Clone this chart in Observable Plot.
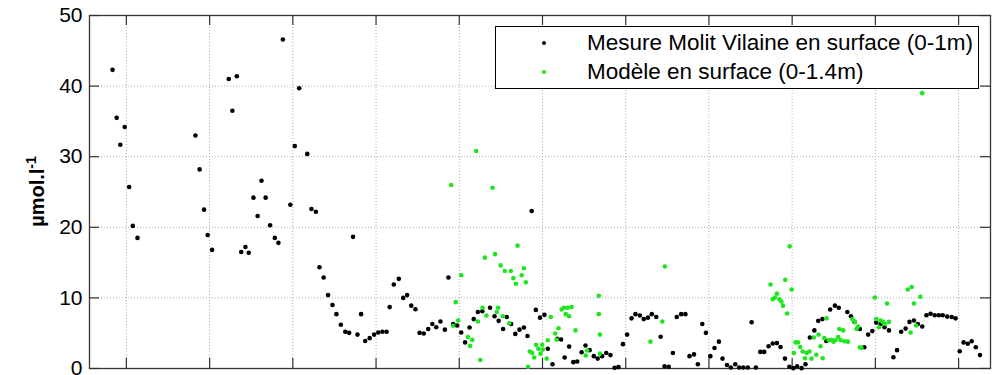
<!DOCTYPE html>
<html>
<head>
<meta charset="utf-8">
<script src="https://cdn.jsdelivr.net/npm/d3@7"></script>
<script src="https://cdn.jsdelivr.net/npm/@observablehq/plot@0.6"></script>
<style>
  html, body { margin: 0; padding: 0; background: #fff; }
  #wrap { position: relative; width: 1000px; height: 375px; overflow: hidden; font-family: 'Liberation Sans', Arial, sans-serif; }
  #legend { position: absolute; left: 495px; top: 26px; width: 482px; height: 61px; border: 1px solid #000; background: #fff; font-size: 22.5px; color: #000; }
  #legend .row { position: absolute; left: 0; height: 26px; line-height: 26px; white-space: nowrap; }
  #legend .mk { position: absolute; left: 46px; top: 11px; width: 4px; height: 4px; border-radius: 50%; }
  #legend .lb { position: absolute; left: 91px; top: 0; }
</style>
</head>
<body>
<div id="wrap"></div>
<script>
// Measurements (black): day index, µmol/l
const measDay = [25.0,26.5,27.8,29.4,31.0,32.3,34.0,54.9,56.4,58.0,59.3,60.9,66.9,68.2,69.8,71.4,72.9,74.1,75.8,77.3,78.7,80.2,81.8,83.5,84.8,86.4,89.1,90.7,92.3,95.2,96.7,98.3,99.6,101.1,102.7,104.3,105.7,107.3,108.9,110.3,111.7,113.3,114.6,116.1,117.7,119.3,120.8,122.3,123.8,124.9,126.4,128.2,129.8,131.2,132.7,134.2,135.7,137.2,138.8,140.3,141.7,143.2,144.8,146.1,147.8,149.2,150.7,152.1,153.7,155.2,156.7,158.3,161.1,162.7,164.2,165.8,167.1,168.7,170.2,171.7,173.3,174.6,176.1,177.6,179.1,180.7,181.9,183.6,185.3,186.7,188.0,189.6,191.1,192.5,194.1,195.5,197.0,198.5,199.9,201.5,203.0,204.5,206.0,207.4,209.0,210.5,212.1,213.5,215.1,216.5,218.0,219.4,221.0,222.6,224.0,225.5,227.0,228.4,230.0,231.5,233.0,234.6,236.0,237.6,238.9,240.5,242.0,243.6,244.9,246.5,247.9,249.5,250.9,252.4,254.0,255.4,256.9,258.5,259.9,261.5,263.0,264.5,265.8,267.4,269.0,270.4,271.8,273.4,274.8,276.4,278.0,279.4,280.9,282.3,283.7,285.4,286.8,289.9,291.2,292.5,294.4,296.0,297.4,298.9,300.3,301.9,303.3,304.9,306.5,307.8,309.3,310.9,312.3,313.9,315.3,316.9,318.4,319.9,321.4,322.9,324.3,325.9,327.5,328.9,330.4,331.8,333.3,334.7,336.2,337.7];
const measValue = [42.3,35.5,31.7,34.2,25.7,20.2,18.5,33.0,28.2,22.5,18.9,16.8,41.0,36.5,41.4,16.5,17.2,16.4,24.2,21.6,26.6,24.2,20.3,18.5,17.8,46.6,23.2,31.5,39.7,30.4,22.6,22.2,14.35,12.9,10.4,9.0,7.7,6.2,5.2,5.05,18.65,4.8,7.7,3.9,4.3,4.8,5.1,5.2,5.2,8.7,11.9,12.7,10.0,10.4,8.9,8.4,5.05,4.95,5.6,6.3,5.85,6.65,5.5,12.9,6.3,6.1,5.1,3.7,5.8,7.0,8.0,8.1,8.6,7.4,6.75,5.6,7.3,6.3,4.9,5.5,5.8,4.6,22.3,8.3,7.2,7.6,2.8,0.6,4.2,4.1,1.55,3.1,0.9,1.0,2.3,3.25,2.6,1.75,1.4,1.75,2.2,1.9,0.1,0.2,3.45,4.8,7.1,7.7,7.5,7.0,7.2,7.7,7.3,4.5,0.3,0.25,2.2,7.3,7.7,7.7,1.75,2.0,0.6,6.3,5.05,1.75,2.9,3.8,1.4,0.5,0.15,0.6,0.15,0.15,0.15,6.55,0.15,2.35,2.35,3.15,3.55,3.6,3.05,1.4,0.25,0.05,0.3,0.05,0.6,4.4,5.4,6.75,7.0,3.9,8.35,8.9,8.6,8.0,7.4,6.6,5.6,3.0,4.8,5.3,6.5,6.3,5.85,5.4,1.6,2.6,5.2,5.65,6.6,6.8,6.3,5.95,7.55,7.75,7.55,7.55,7.55,7.35,7.3,7.1,2.45,3.7,3.5,3.85,3.0,1.9];

// Model (green): day index, µmol/l
const modelDay = [147.1,147.8,148.7,149.6,150.7,153.1,153.9,154.7,156.1,156.7,157.6,158.4,159.2,159.8,162.0,162.9,163.5,164.0,164.9,165.7,166.4,168.0,168.6,169.5,170.4,171.0,172.5,173.3,174.0,174.8,175.4,176.3,177.0,177.7,178.5,179.3,179.9,180.1,181.5,181.9,183.0,184.6,185.1,185.8,186.9,187.7,188.4,189.1,189.6,190.5,191.9,195.6,196.1,200.3,200.3,200.7,200.7,218.9,223.2,224.1,262.2,263.0,263.8,264.5,265.4,266.1,266.7,267.5,268.2,269.1,269.8,270.6,271.2,272.1,272.9,273.8,274.6,275.2,276.2,277.0,277.8,278.7,279.5,280.2,281.0,281.6,282.4,283.2,284.2,284.9,285.6,286.6,287.0,287.5,288.4,288.9,290.1,291.7,292.6,293.2,293.8,294.4,295.0,299.8,300.3,301.3,301.9,302.7,303.4,304.2,304.9,311.7,312.7,313.1,313.9,314.7,316.2,316.9];
const modelValue = [26.0,6.05,9.4,6.8,13.2,4.45,3.2,4.05,30.8,6.65,1.2,8.6,15.7,7.5,25.6,16.2,8.0,8.6,14.6,7.4,13.8,6.4,13.8,12.8,12.0,17.4,13.2,14.2,12.2,0.25,2.4,2.2,1.55,3.35,2.8,2.1,3.35,2.7,1.4,4.0,7.3,4.95,4.1,5.7,8.35,8.6,7.7,8.6,7.4,8.7,5.4,1.85,2.55,10.3,7.7,4.8,2.1,3.8,6.65,14.45,11.9,9.8,10.05,10.6,9.8,9.5,8.9,12.55,7.8,17.3,11.2,2.2,3.7,3.7,3.05,2.4,1.45,2.2,2.4,1.4,4.4,1.95,4.8,3.15,1.45,4.3,7.1,4.0,4.05,3.8,4.0,4.45,5.6,4.0,5.4,3.85,3.8,7.0,6.6,5.6,5.95,3.0,2.9,10.05,7.0,5.85,6.8,6.6,6.3,9.2,6.6,11.2,5.1,11.55,9.2,6.1,10.15,39.0];

const xTicks = [30, 60, 90, 120, 150, 180, 210, 240, 270, 300, 330];
const yTicks = [0, 10, 20, 30, 40, 50];
const legendLabels = ["Mesure Molit Vilaine en surface (0-1m)", "Modèle en surface (0-1.4m)"];
const yLabel = "µmol.l";
const yLabelSup = "-1";
const colors = ["#000000", "#1ee61e"];

const meas = measDay.map((d, i) => ({x: d, y: measValue[i]}));
const model = modelDay.map((d, i) => ({x: d, y: modelValue[i]}));

const W = 1000, H = 375, mL = 89, mR = 10, mT = 15, mB = 7;
const innerW = W - mL - mR, innerH = H - mT - mB, tk = 10;

const chart = Plot.plot({
  width: W, height: H,
  marginLeft: mL, marginRight: mR, marginTop: mT, marginBottom: mB,
  x: {domain: [16.7, 341.5], axis: null},
  y: {domain: [0, 50]},
  style: {fontFamily: "'Liberation Sans', Arial, sans-serif", background: "white", color: "black"},
  marks: [
    Plot.gridX(xTicks, {stroke: "#9a9a9a", strokeOpacity: 0.8, strokeDasharray: "1,2"}),
    Plot.gridY(yTicks, {stroke: "#9a9a9a", strokeOpacity: 0.8, strokeDasharray: "1,2"}),
    Plot.tickX(xTicks, {x: d => d, insetTop: innerH - tk, stroke: "#333", strokeWidth: 1.2}),
    Plot.tickX(xTicks, {x: d => d, insetBottom: innerH - tk, stroke: "#333", strokeWidth: 1.2}),
    Plot.tickY(yTicks, {y: d => d, insetRight: innerW - tk, stroke: "#333", strokeWidth: 1.2}),
    Plot.tickY(yTicks, {y: d => d, insetLeft: innerW - tk, stroke: "#333", strokeWidth: 1.2}),
    Plot.axisY(yTicks, {anchor: "left", tickSize: 0, tickPadding: 7, fontSize: 21, label: null, fill: "black"}),
    Plot.frame({stroke: "#333", strokeWidth: 1.3}),
    Plot.dot(meas, {x: "x", y: "y", r: 2.3, fill: colors[0], stroke: null}),
    Plot.dot(model, {x: "x", y: "y", r: 2.3, fill: colors[1], stroke: null})
  ]
});

const wrap = document.getElementById("wrap");
wrap.appendChild(chart);

// y-axis label with superscript
const svg = d3.select(chart);
const t = svg.append("text")
  .attr("transform", `translate(44,${mT + innerH / 2}) rotate(-90)`)
  .attr("text-anchor", "middle")
  .attr("font-weight", "bold")
  .attr("font-size", 20)
  .attr("fill", "black");
t.append("tspan").text(yLabel);
t.append("tspan").attr("font-size", 14).attr("dy", -8).text(yLabelSup);

// legend
const legend = document.createElement("div");
legend.id = "legend";
legendLabels.forEach((lab, i) => {
  const row = document.createElement("div");
  row.className = "row";
  row.style.top = (3 + i * 29) + "px";
  row.style.width = "100%";
  const mk = document.createElement("span");
  mk.className = "mk";
  mk.style.background = colors[i];
  const lb = document.createElement("span");
  lb.className = "lb";
  lb.textContent = lab;
  row.appendChild(mk);
  row.appendChild(lb);
  legend.appendChild(row);
});
wrap.appendChild(legend);
</script>
</body>
</html>
